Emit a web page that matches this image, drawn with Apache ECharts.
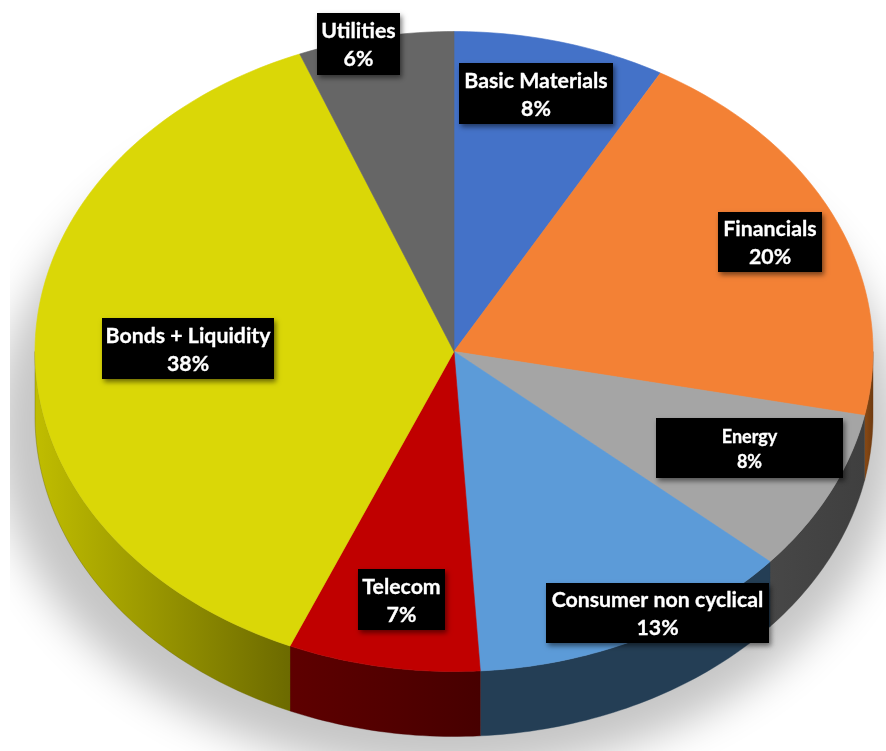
<!DOCTYPE html>
<html><head><meta charset="utf-8">
<style>html,body{margin:0;padding:0;background:#fff}#c{width:886px;height:751px}</style>
<script src="https://cdn.jsdelivr.net/npm/echarts@6/dist/echarts.min.js"></script>
</head><body><div id="c"></div>
<script>
const categories = ['Basic Materials','Financials','Energy','Consumer non cyclical','Telecom','Bonds + Liquidity','Utilities'];
const shares = [8.2, 20, 8.2, 12.6, 7.4, 37.6, 6];
const sliceColors = ['#4472C8','#F38135','#A5A5A5','#5C9BD8','#C00000','#DAD707','#666666'];
const wallColors = [['#2a4578','#2a4578'],['#8a4a15','#6e3a0f'],['#474747','#3f3f3f'],['#243e55','#243e55'],['#5e0000','#470000'],['#c0bd00','#6c6a00'],['#3d3d3d','#3d3d3d']];
const labelBoxes = [[459,63,154,61,21.3,28],[718,212,104,60,21.3,28],[656,418,187,60,18,25],[546,583,223,60,21.3,28],[358,569,87,61,21.3,28],[102,318,172,61,21.3,28],[317,13,83,62,21.3,28]];
const CX=454, CY=351.5, RX=419, RY=320, DEPTH=65;

let run=0;
const cumulative = shares.map(v=>{const s=run; run+=v; return s;});
const total = run;
const rows = categories.map((n,i)=>[shares[i],cumulative[i],i,n]);
const pt=(deg,dy)=>{const r=deg*Math.PI/180;return [CX+RX*Math.sin(r),CY+dy-RY*Math.cos(r)];};
const arc=(a,b,dy)=>{const n=Math.max(2,Math.ceil(Math.abs(b-a)));const o=[];for(let k=0;k<=n;k++)o.push(pt(a+(b-a)*k/n,dy));return o;};
const angles=api=>{const s=api.value(1)/total*360;return [s,s+api.value(0)/total*360];};

function renderTop(p,api){
  const [a,b]=angles(api),c=sliceColors[api.value(2)];
  return {type:'polygon',shape:{points:[[CX,CY]].concat(arc(a,b,0))},style:{fill:c,stroke:c,lineWidth:0.6}};
}
function renderWall(p,api){
  const [a0,b0]=angles(api),a=Math.max(a0,90),b=Math.min(b0,270);
  if(b<=a) return null;
  const w=wallColors[api.value(2)],l=pt(b,0)[0],r=pt(a,0)[0];
  const fill=new echarts.graphic.LinearGradient(l,0,r,0,[{offset:0,color:w[0]},{offset:1,color:w[1]}],true);
  return {type:'polygon',shape:{points:arc(a,b,0).concat(arc(b,a,DEPTH))},style:{fill:fill,stroke:w[1],lineWidth:0.4}};
}
function renderLabel(p,api){
  const i=api.value(2),b=labelBoxes[i],name=categories[i],pct=Math.round(api.value(0))+'%';
  return {type:'group',children:[
    {type:'rect',shape:{x:b[0],y:b[1],width:b[2],height:b[3]},style:{fill:'#000',shadowBlur:5,shadowOffsetX:2,shadowOffsetY:3,shadowColor:'rgba(0,0,0,0.5)'}},
    {type:'text',style:{x:b[0]+b[2]/2,y:b[1]+b[3]/2+1.5,text:name+'\n'+pct,fill:'#fff',stroke:'#fff',lineWidth:0.3,font:'bold '+b[4]+'px Lato',lineHeight:b[5],align:'center',verticalAlign:'middle',textAlign:'center',textVerticalAlign:'middle'}}
  ]};
}
const chart=echarts.init(document.getElementById('c'),null,{renderer:'canvas'});
chart.setOption({
  animation:false,
  graphic:[
    {type:'ellipse',z:0,shape:{cx:CX-7-3000,cy:CY+80,rx:RX+32,ry:RY+22},style:{fill:'#cccccc',shadowBlur:42,shadowColor:'#c6c6c6',shadowOffsetX:3000}},
    {type:'rect',z:1,shape:{x:0,y:0,width:10,height:751},style:{fill:'#fff'}}
  ],
  series:[
    {type:'custom',coordinateSystem:'none',z:2,data:rows,renderItem:renderWall,silent:true},
    {type:'custom',coordinateSystem:'none',z:3,data:rows,renderItem:renderTop,silent:true},
    {type:'custom',coordinateSystem:'none',z:4,data:rows,renderItem:renderLabel,silent:true}
  ]
});
</script></body></html>
